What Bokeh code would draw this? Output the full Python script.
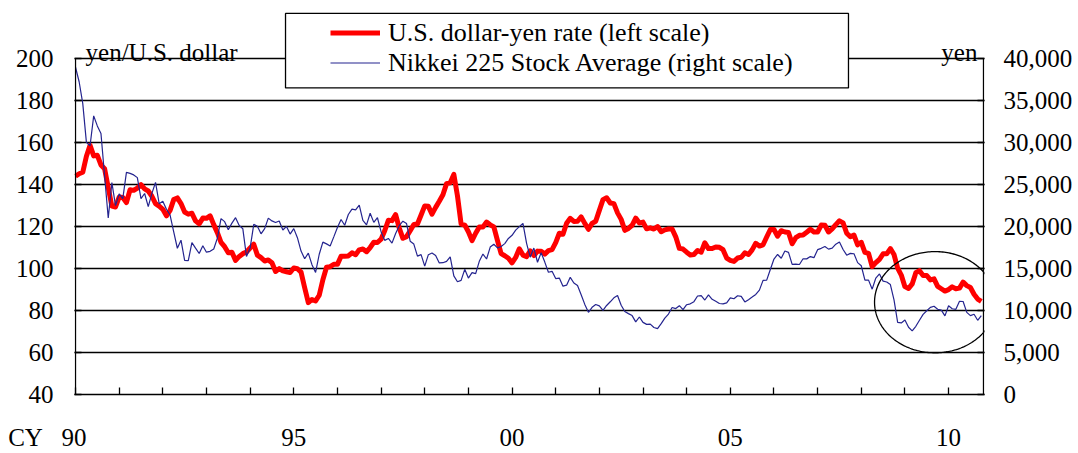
import numpy as np
import pandas as pd
from bokeh.plotting import figure
from bokeh.models import (Range1d, LinearAxis, FixedTicker, NumeralTickFormatter,
                          Legend, LegendItem, Label, BoxAnnotation, PolyAnnotation)
from bokeh.embed import file_html
from bokeh.resources import INLINE

# ---------------- data (month-end, starting Dec 1989) ----------------
START_MONTH = "1989-12"

usd_jpy = [
    143.8,
    145.0, 145.7, 153.3, 158.5, 153.5, 153.8, 149.2, 147.4, 138.4, 129.6, 129.2, 133.9,  # 1990
    133.7, 131.3, 137.4, 137.1, 138.2, 139.8, 137.8, 136.8, 134.3, 130.8, 129.6, 128.1,  # 1991
    125.0, 127.6, 132.7, 133.5, 130.8, 126.8, 125.8, 126.2, 122.6, 121.2, 123.9, 123.8,  # 1992
    125.0, 120.8, 117.0, 112.4, 110.3, 107.4, 107.7, 103.8, 105.7, 107.0, 107.8, 109.7,  # 1993
    111.5, 106.3, 105.1, 103.5, 104.0, 102.7, 98.5, 99.9, 98.8, 98.4, 98.0, 100.2,       # 1994
    99.8, 98.2, 90.8, 83.7, 85.2, 84.5, 87.2, 94.6, 100.5, 100.8, 101.9, 101.9,          # 1995
    105.8, 105.8, 105.9, 107.4, 106.5, 108.8, 109.2, 107.9, 109.9, 112.4, 112.3, 113.9,  # 1996
    117.9, 122.9, 122.7, 125.6, 119.2, 114.3, 115.1, 117.9, 120.9, 121.1, 125.4, 129.7,  # 1997
    129.5, 125.8, 129.0, 131.9, 135.0, 140.3, 140.7, 144.7, 134.5, 121.1, 120.6, 117.4,  # 1998
    113.2, 116.7, 119.7, 119.7, 122.0, 120.7, 119.7, 113.2, 107.0, 106.0, 104.8, 102.6,  # 1999
    105.2, 109.3, 106.3, 105.6, 108.3, 106.1, 108.2, 108.1, 106.8, 108.4, 108.9, 112.2,  # 2000
    116.7, 116.2, 121.5, 123.8, 122.3, 122.4, 124.5, 121.4, 118.6, 121.4, 122.4, 127.6,  # 2001
    132.7, 133.6, 131.1, 130.8, 126.4, 123.3, 118.1, 119.0, 120.5, 123.9, 121.6, 122.0,  # 2002
    118.8, 119.3, 118.7, 119.9, 117.4, 118.3, 118.7, 118.7, 115.0, 109.5, 109.2, 107.7,  # 2003
    106.4, 106.6, 108.5, 107.7, 112.2, 109.4, 109.4, 110.2, 110.0, 108.9, 104.9, 103.8,  # 2004
    103.3, 104.9, 105.3, 107.4, 106.6, 108.8, 111.9, 110.6, 111.2, 114.9, 118.5, 118.5,  # 2005
    115.3, 117.9, 117.3, 117.1, 111.7, 114.6, 115.7, 115.9, 117.2, 118.6, 117.3, 117.3,  # 2006
    120.6, 120.5, 117.3, 118.8, 120.8, 122.6, 121.6, 116.7, 115.0, 115.8, 111.2, 112.4,  # 2007
    107.6, 107.1, 100.8, 102.7, 104.3, 106.9, 106.9, 109.4, 106.6, 100.1, 96.8, 91.3,    # 2008
    90.4, 92.6, 97.9, 98.9, 96.6, 96.6, 94.5, 95.0, 91.4, 90.3, 89.2, 89.9,              # 2009
    91.2, 90.3, 90.6, 93.5, 91.8, 90.9, 87.7, 85.4, 84.3,                                # 2010
]

nikkei = [
    38916,
    37189, 34591, 29980, 29584, 33131, 31940, 31036, 25978, 20984, 25194, 22455, 23849,  # 1990
    23293, 26409, 26292, 26111, 25790, 23291, 23900, 22335, 23916, 25222, 22687, 22984,  # 1991
    22023, 21339, 19346, 17391, 18348, 15951, 15910, 18061, 17399, 16768, 17685, 16925,  # 1992
    17024, 17298, 18591, 20919, 20553, 19591, 20380, 21027, 20106, 19704, 16408, 17417,  # 1993
    20229, 19998, 19112, 19725, 20974, 20644, 20449, 20629, 19564, 19990, 19076, 19723,  # 1994
    18650, 17053, 16140, 16807, 15437, 14517, 16678, 18117, 17913, 17655, 18744, 19868,  # 1995
    20813, 20125, 21407, 22041, 21956, 22531, 20693, 20167, 21556, 20467, 21020, 19361,  # 1996
    18330, 18557, 18003, 19151, 20069, 20605, 20331, 18229, 17888, 16459, 16636, 15259,  # 1997
    16628, 16832, 16527, 15641, 15671, 15830, 16379, 14108, 13406, 13565, 14884, 13842,  # 1998
    14500, 14368, 15837, 16701, 16112, 17530, 17862, 17437, 17606, 17943, 18558, 18934,  # 1999
    19540, 19960, 20337, 17974, 16332, 17411, 15727, 16861, 15747, 14539, 14649, 13786,  # 2000
    13844, 12884, 12999, 13934, 13262, 12969, 11861, 10714, 9775, 10367, 10697, 10543,   # 2001
    9998, 10588, 11025, 11493, 11764, 10622, 9877, 9619, 9383, 8640, 9216, 8579,         # 2002
    8340, 8363, 7973, 7831, 8425, 9083, 9563, 10344, 10219, 10560, 10100, 10677,         # 2003
    10784, 11041, 11715, 11762, 11236, 11858, 11326, 11082, 10824, 10771, 10899, 11489,  # 2004
    11388, 11740, 11668, 11009, 11277, 11584, 11900, 12414, 13574, 13607, 14872, 16111,  # 2005
    16650, 16205, 17060, 16906, 15467, 15505, 15457, 16141, 16128, 16399, 16274, 17226,  # 2006
    17383, 17604, 17288, 17400, 17876, 18138, 17249, 16569, 16786, 16738, 15681, 15308,  # 2007
    13592, 13604, 12526, 13850, 14339, 13481, 13377, 13073, 11260, 8577, 8512, 8860,     # 2008
    7994, 7568, 8110, 8828, 9523, 9958, 10357, 10493, 10133, 10035, 9346, 10546,         # 2009
    10198, 10126, 11090, 11057, 9769, 9383, 9537, 8824, 9369,                            # 2010
]

year_ticks = list(range(1990, 2011))
NBSP = "\u00a0"
year_labels = {1990: "CY" + NBSP * 3 + "90" + NBSP * 9, 1995: "95", 2000: "00", 2005: "05", 2010: "10"}
yen_ticks = [40, 60, 80, 100, 120, 140, 160, 180, 200]
nikkei_ticks = [0, 5000, 10000, 15000, 20000, 25000, 30000, 35000, 40000]

legend_labels = ["U.S. dollar-yen rate (left scale)", "Nikkei 225 Stock Average (right scale)"]
left_unit = "yen/U.S. dollar"
right_unit = "yen"

# highlighted period (ellipse) in data coordinates
HL_CENTER = (2009.69, 83.9)
HL_RADII = (1.386, 24.07)

# ---------------- figure ----------------
FONT = "Liberation Serif"
X_FIRST, X_LAST = 1990.0, 2010.8
PX_PER_YEAR = 908 / (X_LAST - X_FIRST)
PAD = 1 / PX_PER_YEAR                      # 1px extra each side so the borders are not clipped
Y_LO, Y_HI = 40, 200
Y_TOP = Y_LO + 387 * (Y_HI - Y_LO) / 339   # frame reaches up to hold legend and unit labels
NK_TOP = (Y_TOP - Y_LO) * 250

months = pd.period_range(START_MONTH, periods=len(usd_jpy), freq="M")
x = np.array([m.year + m.month / 12.0 for m in months])

p = figure(width=1078, height=453, x_range=Range1d(X_FIRST - PAD, X_LAST + PAD),
           y_range=Range1d(Y_LO, Y_TOP),
           output_backend="svg", toolbar_location=None, title=None,
           min_border_left=74, min_border_right=94, min_border_top=10, min_border_bottom=56)
p.extra_y_ranges = {"nikkei": Range1d(0, NK_TOP)}
p.background_fill_color = "white"
p.border_fill_color = "white"
p.outline_line_color = None

red = p.line(x, usd_jpy, line_color="#ff0000", line_width=5, line_join="round")
blue = p.line(x, nikkei, y_range_name="nikkei", line_color="#24248f", line_width=1.2)

# left / right frame borders (only between 40 and 200)
p.segment(x0=[X_FIRST, X_LAST], y0=[Y_LO, Y_LO], x1=[X_FIRST, X_LAST], y1=[Y_HI, Y_HI],
          line_color="black", line_width=1.3)

p.xgrid.grid_line_color = None
p.ygrid.ticker = FixedTicker(ticks=yen_ticks)
p.ygrid.grid_line_color = "black"
p.ygrid.grid_line_width = 1.3

right_axis = LinearAxis(y_range_name="nikkei", ticker=FixedTicker(ticks=nikkei_ticks),
                        formatter=NumeralTickFormatter(format="0,0"))
p.add_layout(right_axis, "right")

p.yaxis[0].ticker = FixedTicker(ticks=yen_ticks)
p.xaxis[0].ticker = FixedTicker(ticks=year_ticks)
p.xaxis[0].major_label_overrides = {y: year_labels.get(y, "") for y in year_ticks}

for ax in [p.xaxis[0], p.yaxis[0], right_axis]:
    ax.major_tick_in = 7
    ax.major_tick_out = 0
    ax.major_tick_line_color = "black"
    ax.major_tick_line_width = 1.3
    ax.minor_tick_line_color = None
    ax.major_label_text_font = FONT
    ax.major_label_text_font_size = "25px"
    ax.major_label_text_color = "black"
p.xaxis[0].axis_line_color = "black"
p.xaxis[0].axis_line_width = 1.3
p.yaxis[0].axis_line_color = None
right_axis.axis_line_color = None
p.yaxis[0].major_label_standoff = 21
right_axis.major_label_standoff = 19
p.xaxis[0].major_label_standoff = 29

# unit labels
p.add_layout(Label(x=1990.23, y=202.8, text=left_unit, text_font=FONT, text_font_size="25px",
                   text_align="left", text_baseline="alphabetic", text_color="black"))
p.add_layout(Label(x=2010.66, y=202.8, text=right_unit, text_font=FONT, text_font_size="25px",
                   text_align="right", text_baseline="alphabetic", text_color="black"))

# highlight ellipse
t = np.linspace(0, 2 * np.pi, 240)
p.add_layout(PolyAnnotation(xs=list(HL_CENTER[0] + HL_RADII[0] * np.cos(t)),
                            ys=list(HL_CENTER[1] + HL_RADII[1] * np.sin(t)),
                            fill_color=None, fill_alpha=0, line_color="black",
                            line_alpha=1.0, line_width=1.3))

# legend box + legend
p.add_layout(BoxAnnotation(left=1994.811, right=2007.707, bottom=185.84, top=221.24,
                           fill_color="white", fill_alpha=1.0, line_color="black",
                           line_width=1.3, line_alpha=1.0))
legend = Legend(items=[LegendItem(label=legend_labels[0], renderers=[red]),
                       LegendItem(label=legend_labels[1], renderers=[blue])],
                location=(256, 316.5), padding=0, spacing=0, margin=0,
                glyph_width=50, glyph_height=29, label_height=29, label_standoff=8,
                background_fill_alpha=0, border_line_alpha=0,
                label_text_font=FONT, label_text_font_size="26px", label_text_color="black")
p.add_layout(legend)

open("out.html", "w").write(file_html(p, INLINE))
